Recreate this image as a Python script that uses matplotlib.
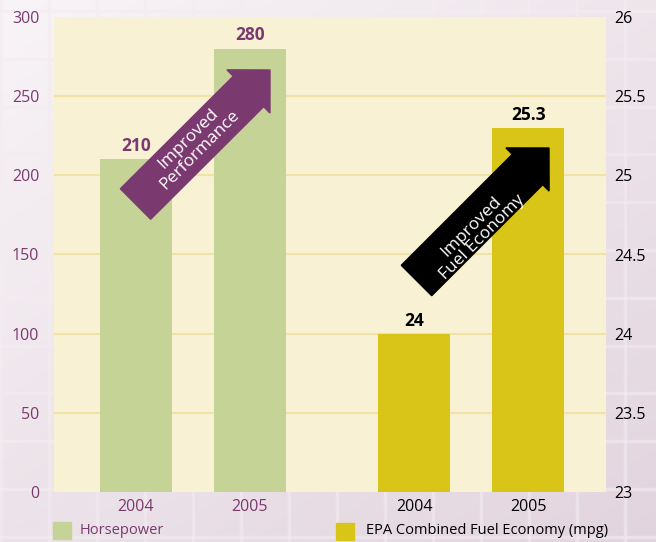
import numpy as np
import matplotlib
matplotlib.use("Agg")
import matplotlib.pyplot as plt
from matplotlib.patches import Polygon

plt.rcParams['font.family'] = ['Open Sans', 'DejaVu Sans']

# data
years = ['2004', '2005']
horsepower = [210, 280]
mpg = [24, 25.3]
hp_ticks = [0, 50, 100, 150, 200, 250, 300]
mpg_ticks = [23, 23.5, 24, 24.5, 25, 25.5, 26]

purple = '#7a3a6f'
green = '#c5d396'
yellow = '#d9c418'
cream = '#f8f1d4'
W, H = 656, 542

fig = plt.figure(figsize=(W / 100, H / 100), dpi=100)

# background: soft gradient with faint paper grid
bg = fig.add_axes([0, 0, 1, 1])
gx, gy = np.meshgrid(np.linspace(0, 1, 200), np.linspace(0, 1, 200))
t = np.clip(0.55 * gy + 0.45 * gx, 0, 1)[..., None]
c0 = np.array([248, 244, 247]) / 255
c1 = np.array([226, 212, 222]) / 255
bg.imshow(c0 + (c1 - c0) * t, extent=[0, W, H, 0], aspect='auto')
for x in np.arange(1, W, 48):
    bg.axvline(x, color='#f3ecf1', lw=2.5, alpha=0.6)
for y in np.arange(11, H, 47.8):
    bg.axhline(y, color='#f3ecf1', lw=2.5, alpha=0.6)
bg.set_xlim(0, W)
bg.set_ylim(H, 0)
bg.axis('off')

# main axes
left, right, top, bottom = 54, 606, 17, 492
ax = fig.add_axes([left / W, 1 - bottom / H, (right - left) / W, (bottom - top) / H])
ax.set_facecolor(cream)
ax2 = ax.twinx()

pos_hp = np.array([0, 1])
pos_mpg = np.array([2.44, 3.44])
bw = 0.63

for v in hp_ticks[1:-1]:
    ax.axhline(v, color='#f1e3a6', lw=1.5, zorder=1)
ax.bar(pos_hp, horsepower, width=bw, color=green, zorder=2)
ax2.bar(pos_mpg, mpg, width=bw, color=yellow, zorder=2)

ax.set_xlim(-0.719, 4.123)
ax.set_ylim(0, 300)
ax2.set_ylim(23, 26)
ax.set_yticks(hp_ticks)
ax2.set_yticks(mpg_ticks)
ax.set_yticklabels([str(v) for v in hp_ticks], color=purple, fontsize=11.5)
ax2.set_yticklabels([f'{v:g}' for v in mpg_ticks], color='black', fontsize=11.5)
ax.tick_params(axis='y', length=0, pad=10.5)
ax2.tick_params(axis='y', length=0, pad=6)
ax.set_xticks(list(pos_hp) + list(pos_mpg))
ax.set_xticklabels(years + years, fontsize=11.5)
for i, lab in enumerate(ax.get_xticklabels()):
    lab.set_color(purple if i < 2 else 'black')
ax.tick_params(axis='x', length=0, pad=5)
for a in (ax, ax2):
    for s in a.spines.values():
        s.set_visible(False)

for p, v in zip(pos_hp, horsepower):
    ax.annotate(str(v), (p, v), xytext=(0, 3), textcoords='offset points',
                ha='center', va='bottom', color=purple, fontsize=12.5, fontweight='bold')
for p, v in zip(pos_mpg, mpg):
    ax2.annotate(f'{v:g}', (p, v), xytext=(0, 3), textcoords='offset points',
                 ha='center', va='bottom', color='black', fontsize=12.5, fontweight='bold')


# diagonal arrows, in image pixel coordinates
def arrow(tail, tip, width, head_w, head_l, color, label, text_pos):
    tail = np.array(tail, float)
    tip = np.array(tip, float)
    d = (tip - tail) / np.linalg.norm(tip - tail)
    n = np.array([-d[1], d[0]])
    base = tip - d * head_l
    pts = [tail + n * width / 2, base + n * width / 2, base + n * head_w / 2, tip,
           base - n * head_w / 2, base - n * width / 2, tail - n * width / 2]
    pts = [(x / W, 1 - y / H) for x, y in pts]
    fig.patches.append(Polygon(pts, closed=True, color=color, transform=fig.transFigure,
                               zorder=5))
    fig.text(text_pos[0] / W, 1 - text_pos[1] / H, label, rotation=45, color='white',
             ha='center', va='center', rotation_mode='anchor', fontsize=12.5,
             linespacing=0.95, zorder=6)


arrow((135.5, 204), (270, 70), 43, 61, 30.4, purple, 'Improved\nPerformance', (194, 144))
arrow((416.5, 280.5), (549, 148), 43, 61, 30.4, 'black', 'Improved\nFuel Economy', (477, 232))

# legend
fig.patches.append(plt.Rectangle((53 / W, 1 - 539 / H), 18 / W, 17 / H, color=green,
                                 transform=fig.transFigure))
fig.text(80 / W, 1 - 531 / H, 'Horsepower', color=purple, fontsize=10.5, va='center')
fig.patches.append(plt.Rectangle((336 / W, 1 - 540 / H), 18 / W, 17 / H, color=yellow,
                                 transform=fig.transFigure))
fig.text(366 / W, 1 - 531 / H, 'EPA Combined Fuel Economy (mpg)', color='black',
         fontsize=10.5, va='center')

fig.savefig('out.png', dpi=100)
